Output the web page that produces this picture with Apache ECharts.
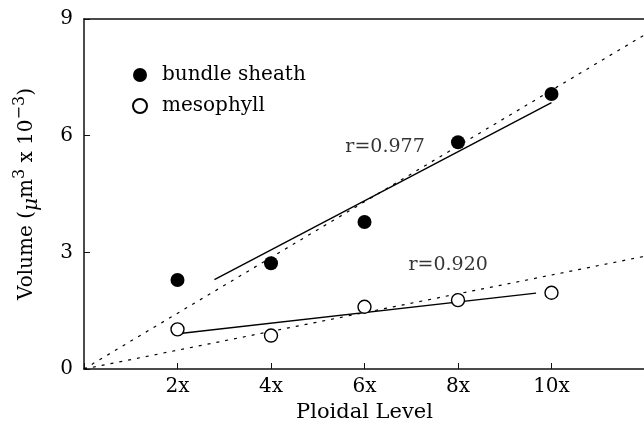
<!DOCTYPE html>
<html>
<head>
<meta charset="utf-8">
<script src="https://cdn.jsdelivr.net/npm/echarts@6/dist/echarts.min.js"></script>
<style>
html,body{margin:0;padding:0;background:#fff;}
#c{width:644px;height:423px;}
</style>
</head>
<body>
<div id="c"></div>
<script>
// ---- data ----
var ploidy = [2, 4, 6, 8, 10];
var bundleSheath = [2.29, 2.72, 3.78, 5.83, 7.07];
var mesophyll = [1.02, 0.86, 1.60, 1.77, 1.96];
// fitted regression segments
var bundleFit = [[2.79, 2.30], [10.0, 6.85]];
var mesophyllFit = [[2.10, 0.92], [9.67, 1.95]];
// through-origin reference lines
var bundleOrigin = [[0, 0], [12, 8.6]];
var mesophyllOrigin = [[0, 0], [12, 2.9]];
// correlation annotations
var rTexts = ['r=0.977', 'r=0.920'];
var rAnchors = [[6.44, 5.71], [7.79, 2.67]];
// tick labels
var xTickValues = [2, 4, 6, 8, 10];
var xTickLabels = ['2x', '4x', '6x', '8x', '10x'];
var yTickValues = [0, 3, 6, 9];
var yTickLabels = ['0', '3', '6', '9'];

var FONT = 'DejaVu Serif';
var chart = echarts.init(document.getElementById('c'), null, {renderer: 'canvas'});

function pairs(xs, ys) { return xs.map(function (x, i) { return [x, ys[i]]; }); }

var option = {
  backgroundColor: '#fff',
  animation: false,
  textStyle: {fontFamily: FONT, color: '#000'},
  grid: {left: 84, top: 19, right: -1, bottom: 54, containLabel: false, outerBoundsMode: 'none'},
  legend: {
    orient: 'vertical',
    left: 127,
    top: 60,
    itemWidth: 14,
    itemHeight: 14,
    itemGap: 11,
    data: ['bundle sheath', 'mesophyll'],
    textStyle: {fontFamily: FONT, fontSize: 20, color: '#000', lineHeight: 20, padding: [0, 0, 0, 10]}
  },
  xAxis: [{
    type: 'value', min: 0, max: 12, interval: 2,
    name: 'Ploidal Level', nameLocation: 'middle', nameGap: 31,
    nameTextStyle: {fontFamily: FONT, fontSize: 21, color: '#000'},
    axisLine: {lineStyle: {color: '#111', width: 1.5}},
    axisTick: {inside: true, length: 6, lineStyle: {color: '#111', width: 1}},
    splitLine: {show: false},
    axisLabel: {
      fontFamily: FONT, fontSize: 20, color: '#000', margin: 8,
      formatter: function (v) { var i = xTickValues.indexOf(v); return i >= 0 ? xTickLabels[i] : ''; }
    }
  }, {
    type: 'value', min: 0, max: 12, position: 'top',
    axisLine: {show: true, onZero: false, lineStyle: {color: '#111', width: 1.5}},
    axisTick: {show: false}, axisLabel: {show: false}, splitLine: {show: false}
  }],
  yAxis: {
    type: 'value', min: 0, max: 9, interval: 3,
    name: 'Volume ({it|μ}m{sup|3} x 10{sup|−3})',
    nameLocation: 'middle', nameGap: 42, nameRotate: 90,
    nameTextStyle: {
      fontFamily: FONT, fontSize: 20, color: '#000', lineHeight: 30, verticalAlign: 'bottom',
      rich: {
        it: {fontFamily: FONT, fontSize: 20, fontStyle: 'italic', color: '#000', lineHeight: 30, verticalAlign: 'bottom'},
        sup: {fontFamily: FONT, fontSize: 16, color: '#000', lineHeight: 16, verticalAlign: 'top'}
      }
    },
    axisLine: {show: true, lineStyle: {color: '#111', width: 1.5}},
    axisTick: {show: true, inside: true, length: 6, lineStyle: {color: '#111', width: 1}},
    splitLine: {show: false},
    axisLabel: {
      fontFamily: FONT, fontSize: 20, color: '#000', margin: 11,
      formatter: function (v) { var i = yTickValues.indexOf(v); return i >= 0 ? yTickLabels[i] : ''; }
    }
  },
  series: [
    {
      name: 'bundle sheath origin', type: 'line', data: bundleOrigin, symbol: 'none', silent: true,
      lineStyle: {color: '#000', width: 1.2, type: [3, 6]}, z: 1
    },
    {
      name: 'mesophyll origin', type: 'line', data: mesophyllOrigin, symbol: 'none', silent: true,
      lineStyle: {color: '#000', width: 1.2, type: [3, 6]}, z: 1
    },
    {
      name: 'bundle sheath fit', type: 'line', data: bundleFit, symbol: 'none', silent: true,
      lineStyle: {color: '#000', width: 1.4}, z: 2
    },
    {
      name: 'mesophyll fit', type: 'line', data: mesophyllFit, symbol: 'none', silent: true,
      lineStyle: {color: '#000', width: 1.4}, z: 2
    },
    {
      name: 'bundle sheath', type: 'scatter', data: pairs(ploidy, bundleSheath),
      symbol: 'circle', symbolSize: 14,
      itemStyle: {color: '#000', borderColor: '#000', borderWidth: 0, opacity: 1}, z: 5
    },
    {
      name: 'mesophyll', type: 'scatter', data: pairs(ploidy, mesophyll),
      symbol: 'circle', symbolSize: 13,
      itemStyle: {color: '#fff', borderColor: '#000', borderWidth: 1.4, opacity: 1}, z: 5
    },
    {
      name: 'r labels', type: 'scatter', symbolSize: 0, silent: true,
      data: rAnchors.map(function (p, i) { return {value: p, label: {formatter: rTexts[i]}}; }),
      label: {show: true, position: 'inside', fontFamily: FONT, fontSize: 19, color: '#000'}, z: 6
    }
  ]
};
chart.setOption(option);
</script>
</body>
</html>
